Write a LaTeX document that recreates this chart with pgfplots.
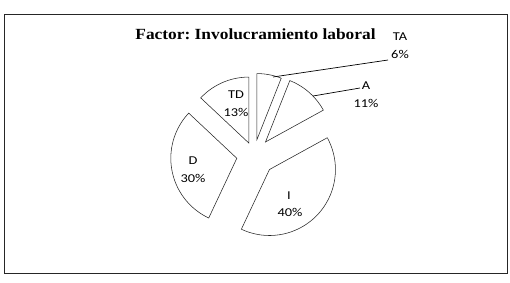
\documentclass[border=0pt]{standalone}
\usepackage{pgfplots}
\usepackage{pgfplotstable}
\pgfplotsset{compat=1.18}
\usepackage{fontspec}
\setmainfont{Carlito}
\newfontfamily\titlefont{Liberation Serif}
\frenchspacing

\pgfplotstableread{
label value explode
TA 6 15.7
A 11 17.4
I 40 21.2
D 30 17.5
TD 13 13
}\piedata

\begin{document}
\begin{tikzpicture}
\begin{axis}[
  scale only axis, width=510bp, height=282bp,
  xmin=0, xmax=510, ymin=0, ymax=282, y dir=reverse,
  hide axis, clip=false,
  slice/.style={draw=black!85, line width=0.55pt, fill=white, samples=40},
]
\path (rel axis cs:0,0) rectangle (rel axis cs:1,1);
% frame
\draw[black!85, line width=0.8pt] (4,14) rectangle (507,273);
% pie slices
\xdef\acc{0}
\foreach \i in {0,...,4}{
  \pgfplotstablegetelem{\i}{value}\of\piedata \pgfmathsetmacro\vv{\pgfplotsretval}
  \pgfplotstablegetelem{\i}{explode}\of\piedata \pgfmathsetmacro\ee{\pgfplotsretval}
  \pgfmathsetmacro\sA{\acc*3.6}
  \pgfmathsetmacro\sB{(\acc+\vv)*3.6}
  \pgfmathsetmacro\mm{(\sA+\sB)/2}
  \pgfmathsetmacro\px{254+\ee*sin(\mm)}
  \pgfmathsetmacro\py{155-\ee*cos(\mm)}
  \edef\temp{\noexpand\addplot[slice, domain=\sA:\sB] ({\px+66*sin(x)},{\py-66*cos(x)}) -- (\px,\py) -- cycle;}
  \temp
  \pgfmathsetmacro\newacc{\acc+\vv}
  \xdef\acc{\newacc}
}
% title
\node[font=\titlefont\bfseries\fontsize{15.5bp}{18bp}\selectfont, xscale=1.12] at (255.5,34) {Factor: Involucramiento laboral};
% leader lines
\draw[black, line width=0.7pt] (273,77) -- (388,60);
\draw[black, line width=0.7pt] (313,96) -- (360,88);
% labels
\tikzset{lab/.style={font=\fontsize{12bp}{14bp}\selectfont, xscale=1.2, inner sep=0pt}}
\node[lab] at (400,37) {TA};
\node[lab] at (400,54) {6\%};
\node[lab] at (366,86) {A};
\node[lab] at (366,103) {11\%};
\node[lab] at (289,196) {I};
\node[lab] at (290,212) {40\%};
\node[lab] at (193,161) {D};
\node[lab] at (193,178) {30\%};
\node[lab] at (236,95) {TD};
\node[lab] at (236,112) {13\%};
\end{axis}
\end{tikzpicture}
\end{document}
